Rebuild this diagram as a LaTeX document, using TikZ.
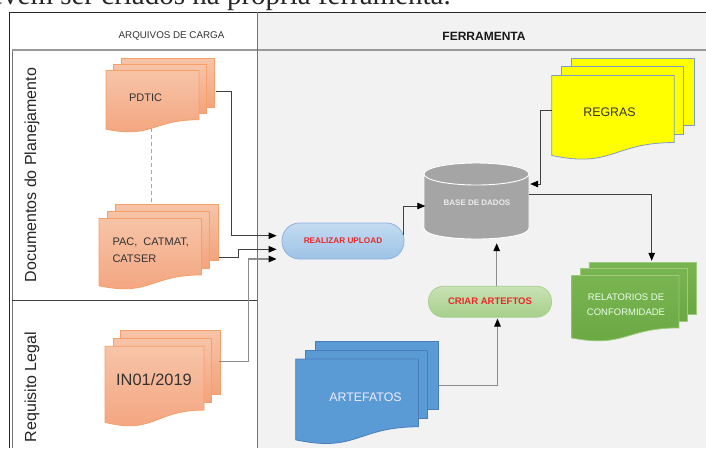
\documentclass[tikz,border=0pt]{standalone}
\usepackage{fontspec}
\setmainfont{Liberation Sans}
\newfontfamily\serifpart{Liberation Serif}
\usetikzlibrary{arrows.meta,calc}
\definecolor{bggray}{HTML}{F2F2F2}
\definecolor{orTop}{HTML}{F7C4A8}
\definecolor{orBot}{HTML}{F3A37C}
\definecolor{orLine}{HTML}{F5A06A}
\definecolor{yelFill}{HTML}{FFFF00}
\definecolor{yelLine}{HTML}{7F9DC4}
\definecolor{grTop}{HTML}{79B451}
\definecolor{grBot}{HTML}{6AA842}
\definecolor{grLine}{HTML}{9CCB7E}
\definecolor{blFill}{HTML}{5B9BD5}
\definecolor{blLine}{HTML}{4A7EBB}
\definecolor{dbGray}{HTML}{A5A5A5}
\definecolor{upTop}{HTML}{C4DBF1}
\definecolor{upBot}{HTML}{9DC3E6}
\definecolor{upLine}{HTML}{8DB3DE}
\definecolor{crTop}{HTML}{C8E2B5}
\definecolor{crBot}{HTML}{A6CF8B}
\definecolor{crLine}{HTML}{A9D18E}
\definecolor{redTxt}{HTML}{E8282B}
\definecolor{darkLine}{HTML}{404040}
\definecolor{lightLine}{HTML}{8C8C8C}
\newcommand{\mdoc}[5]{%
  \begin{scope}[shift={(#1,#2)}, xscale=#3, yscale=#4]
    \path[#5] (0.138,0) rectangle (1,0.666);
    \path[#5] (0.071,0.084) rectangle (0.926,0.752);
    \path[#5] (0,0.962) .. controls (0.430,1.09) and (0.430,0.834) .. (0.861,0.834) -- (0.861,0.170) -- (0,0.170) -- cycle;
  \end{scope}}
\tikzset{
  orangedoc/.style={top color=orTop, bottom color=orBot, draw=orLine, line width=0.8pt},
  yellowdoc/.style={fill=yelFill, draw=yelLine, line width=0.8pt},
  greendoc/.style={top color=grTop, bottom color=grBot, draw=grLine, line width=0.8pt},
  bluedoc/.style={fill=blFill, draw=blLine, line width=0.8pt},
  box/.style={inner sep=0pt, minimum width=#1},
  doctext/.style={font=\fontsize{11}{13}\selectfont, text=black!80},
  proc/.style={rounded corners=15pt, inner sep=0pt, font=\bfseries\fontsize{8.2}{10}\selectfont, text=redTxt},
  conn/.style={draw=darkLine, line width=0.8pt, -{Triangle[length=8pt,width=6.5pt,color=black]}},
  lconn/.style={draw=lightLine, line width=1.2pt, -{Triangle[length=8pt,width=6.5pt,color=black]}},
  plain/.style={draw=darkLine, line width=0.8pt},
}
\begin{document}
\begin{tikzpicture}[x=1pt,y=-1pt]
\useasboundingbox (0,0) rectangle (706,448);
\clip (0,0) rectangle (706,448);
% backgrounds
\fill[white] (0,0) rectangle (706,448);
\fill[bggray] (257,12) rectangle (706,448);
% cropped caption line above the frame
\node[anchor=base east, inner sep=0pt, font=\serifpart\fontsize{29}{33}\selectfont, text=black!85] (caption) at (451,4) {devem ser criados na própria ferramenta.};
% frame
\draw[black!85, line width=0.9pt] (9,448) -- (9,12) -- (706,12);
\draw[black!55, line width=0.7pt] (12,448) -- (12,50);
\draw[black!40, line width=1.3pt] (12,50) -- (706,50);
\draw[black!55, line width=0.8pt] (257,12) -- (257,448);
\draw[black!75, line width=0.7pt] (12,300.5) -- (257,300.5);
% headers
\node[font=\fontsize{9.8}{12}\selectfont, text=black!80] (hdrA) at (171.5,35.5) {ARQUIVOS DE CARGA};
\node[font=\bfseries\fontsize{12}{14}\selectfont, text=black!90] (hdrB) at (484,36.5) {FERRAMENTA};
\node[rotate=90, anchor=base, font=\fontsize{16}{18}\selectfont, text=black!85] (lblA) at (36,175) {Documentos do Planejamento};
\node[rotate=90, anchor=base, font=\fontsize{16}{18}\selectfont, text=black!85] (lblB) at (36,387) {Requisito Legal};
% documents
\mdoc{106}{58}{108}{74}{orangedoc}
\node[box=108pt, minimum height=74pt] (pdtic) at (160,95) {};
\node[doctext] (pdtictxt) at (145.5,97.5) {PDTIC};
\mdoc{99}{204}{119}{85}{orangedoc}
\node[box=119pt, minimum height=85pt] (pac) at (158.5,246.5) {};
\node[doctext, anchor=west, align=left, font=\fontsize{11}{17.3}\selectfont] (pactxt) at (109,250.5) {PAC,\ \ CATMAT,\\CATSER};
\mdoc{105}{330}{115}{96}{orangedoc}
\node[box=115pt, minimum height=96pt] (in01) at (162.5,378) {};
\node[doctext, font=\fontsize{16.4}{18}\selectfont] (in01txt) at (154,380) {IN01/2019};
\draw[black!35, line width=0.9pt, dash pattern=on 4pt off 3pt] ([xshift=-8.3pt]pdtic.south) ++(0,-4) -- ([xshift=-6.8pt]pac.north);
\mdoc{551.7}{58.3}{142.3}{101}{yellowdoc}
\node[box=142.3pt, minimum height=101pt] (regras) at (622.85,108.8) {};
\node[doctext, font=\fontsize{12.4}{14}\selectfont] (regrastxt) at (609.5,112) {REGRAS};
\mdoc{571.7}{262}{124.6}{79}{greendoc}
\node[box=124.6pt, minimum height=79pt] (relat) at (634,301.5) {};
\node[align=center, font=\fontsize{9.5}{15}\selectfont, text=green!8!white] (relattxt) at (626,304.5) {RELATORIOS DE\\CONFORMIDADE};
\mdoc{295.7}{341.7}{142.6}{102}{bluedoc}
\node[box=142.6pt, minimum height=102pt] (artef) at (367,392.7) {};
\node[font=\fontsize{12.4}{14}\selectfont, text=blue!8!white] (arteftxt) at (365.5,397) {ARTEFATOS};
% database cylinder
\path[fill=dbGray] (424,174) -- (424,228) .. controls (424,242.67) and (529,242.67) .. (529,228) -- (529,174) .. controls (529,159.33) and (424,159.33) .. (424,174) -- cycle;
\draw[white, line width=0.9pt] (424,174) -- (424,228) .. controls (424,242.67) and (529,242.67) .. (529,228) -- (529,174);
\draw[white, line width=0.9pt] (476.5,174) ellipse [x radius=52.5, y radius=11];
\node[box=105pt, minimum height=76pt] (db) at (476.5,201) {};
\node[font=\bfseries\fontsize{8}{10}\selectfont, text=white!92!black] (dbtxt) at (477,203) {BASE DE DADOS};
% process stadiums
\node[proc, top color=upTop, bottom color=upBot, draw=upLine, line width=0.8pt, minimum width=122pt, minimum height=36pt, rounded corners=17.5pt] (upload) at (343,241) {REALIZAR UPLOAD};
\node[proc, top color=crTop, bottom color=crBot, draw=crLine, line width=0.8pt, minimum width=123pt, minimum height=31pt, font=\bfseries\fontsize{9.5}{11}\selectfont] (criar) at (490,301.7) {CRIAR ARTEFTOS};
% connectors
\draw[conn] ([shift={(2pt,3.3pt)}]pdtic.east) -- ++(14.7,0) |- ([shift={(-5pt,5.3pt)}]upload.west);
\draw[conn] ([shift={(1pt,-11.2pt)}]pac.east) -- ++(19,0) |- ([shift={(-5pt,-8.3pt)}]upload.west);
\draw[lconn] ([shift={(-1pt,16.3pt)}]in01.east) -- ++(29,0) |- ([shift={(-5pt,-18pt)}]upload.west);
\draw[conn] ([shift={(-1pt,6pt)}]upload.east) |- ([shift={(1.5pt,-5pt)}]db.west);
\draw[conn] ([yshift=-2pt]regras.west) -- ++(-11,0) |- ([shift={(1pt,17pt)}]db.east);
\draw[conn] ([yshift=7pt]db.east) -| ([shift={(17.7pt,1pt)}]relat.north);
\draw[lconn] ([yshift=6.9pt]artef.east) -| ([shift={(7.5pt,-1pt)}]criar.south);
\draw[lconn] ([xshift=6.7pt]criar.north) -- ([shift={(20.2pt,-4pt)}]db.south);
\end{tikzpicture}
\end{document}
